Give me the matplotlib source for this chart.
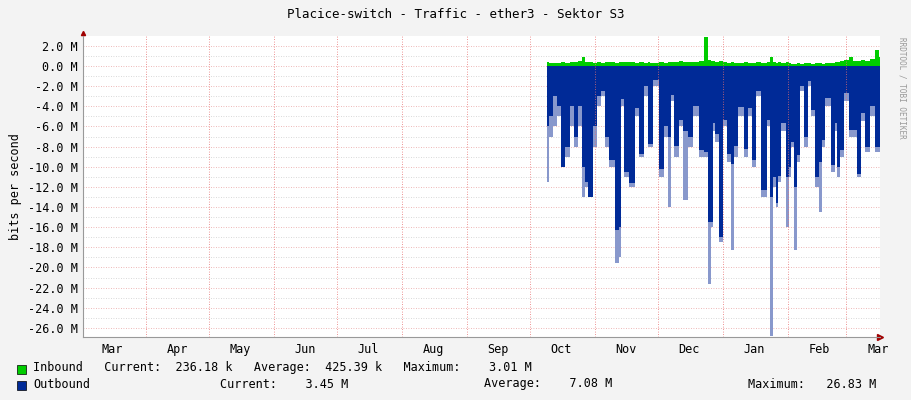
import matplotlib
matplotlib.use("Agg")
import matplotlib.pyplot as plt
import matplotlib.dates as mdates
from matplotlib.ticker import FuncFormatter, MultipleLocator
import datetime as dt

start = dt.date(2022, 3, 2)
end = dt.date(2023, 3, 17)

days = [221,223,225,227,229,231,233,235,237,239,240,242,244,246,248,250,252,255,256,257,259,262,264,266,269,270,271,273,276,278,280,281,283,285,287,290,292,295,297,299,300,301,302,304,306,308,310,311,314,316,318,320,322,325,327,328,330,331,332,334,336,337,338,340,341,343,345,346,348,350,352,353,355,358,359,360,362,364,366,368,370,372,374,376,379,380]
out_avg = [-6,-5,-3,-4,-10,-8,-4,-7,-4,-10,-11.5,-13,-6,-3,-2.5,-7,-9.3,-16.3,-16,-3.3,-10.5,-11.6,-4.2,-8.7,-2,-7.7,-7.7,-1.4,-10.2,-6,-7,-2.9,-7.9,-5.4,-6.5,-7,-4,-8.3,-8.5,-15.5,-15.5,-5.7,-6.7,-17,-5.4,-8.7,-9.7,-7.9,-4.1,-8.2,-4.2,-9.3,-2.5,-12.3,-5.4,-13,-11,-13.6,-10.9,-5.7,-11,-10,-7.5,-12,-8.8,-2,-7,-1.5,-4.4,-11,-9.5,-7.3,-3.2,-9.8,-5.7,-10,-8.3,-2.7,-6.4,-6.4,-10.7,-4.7,-8,-4,-8,-8]
out_max = [-11.5,-7,-6,-5,-10,-9,-6,-8,-6,-13,-12,-13,-8,-4,-3,-8,-10,-19.6,-19,-4,-11,-12,-5,-9,-3,-8,-8,-2,-11,-7,-14,-3.5,-9,-6,-13.3,-8,-5,-9,-9,-21.6,-16,-6.5,-7.5,-17.5,-6,-9.5,-18.3,-9,-5,-9,-5,-10,-3,-13,-6,-26.8,-12,-14,-11.5,-6.5,-16,-11,-8,-18.3,-9.5,-2.5,-8,-2,-5,-12,-14.5,-8,-4,-10.5,-6.5,-11,-9,-3.5,-7,-7,-11,-5.5,-8.5,-5,-8.5,-8.5]
inbound = [0.4,0.3,0.3,0.3,0.35,0.3,0.4,0.35,0.5,0.9,0.4,0.35,0.3,0.35,0.3,0.4,0.35,0.3,0.4,0.35,0.4,0.35,0.3,0.4,0.3,0.35,0.3,0.3,0.35,0.3,0.35,0.4,0.35,0.45,0.4,0.35,0.4,0.5,2.9,0.6,0.5,0.45,0.4,0.5,0.35,0.3,0.35,0.3,0.3,0.35,0.3,0.3,0.35,0.3,0.35,0.9,0.35,0.3,0.35,0.3,0.35,0.3,0.25,0.25,0.3,0.25,0.3,0.3,0.25,0.3,0.3,0.25,0.3,0.3,0.35,0.4,0.5,0.6,0.9,0.5,0.5,0.6,0.5,0.7,1.6,0.9]

months = ["Mar","Apr","May","Jun","Jul","Aug","Sep","Oct","Nov","Dec","Jan","Feb","Mar"]

x = [mdates.date2num(start + dt.timedelta(days=d)) for d in days]
M = 1e6

plt.rcParams['font.family'] = ['DejaVu Sans Mono']
fig = plt.figure(figsize=(9.11, 4.0), dpi=100, facecolor='#F3F3F3')
ax = fig.add_axes([83/911, 1-337/400, 797/911, 301/400], facecolor='white')

ax.fill_between(x, [v*M for v in out_max], 0, step='mid', color='#8898cc', lw=0)
ax.fill_between(x, [v*M for v in out_avg], 0, step='mid', color='#002A97', lw=0)
ax.fill_between(x, [v*M for v in inbound], 0, step='mid', color='#00CC00', lw=0)

ax.set_xlim(mdates.date2num(start), mdates.date2num(end))
ax.set_ylim(-26.9*M, 2.98*M)

# grid
for v in range(-26, 3):
    col = '#e8a0a0' if v % 2 == 0 else '#cccccc'
    ax.axhline(v*M, color=col, lw=0.6, ls=(0, (1, 2)), zorder=0.5)
bounds = []
d = dt.date(2022, 4, 1)
while d < end:
    bounds.append(mdates.date2num(d))
    d = dt.date(d.year + (d.month // 12), d.month % 12 + 1, 1)
for b in bounds:
    ax.axvline(b, color='#e87070', lw=0.6, ls=(0, (1, 2)), zorder=3)
mids = []
d = dt.date(2022, 3, 1)
for i in range(13):
    mids.append(mdates.date2num(d) + 15)
    d = dt.date(d.year + (d.month // 12), d.month % 12 + 1, 1)
ax.set_xticks(mids)
ax.set_xticklabels(months)
ax.yaxis.set_major_locator(MultipleLocator(2*M))
ax.yaxis.set_major_formatter(FuncFormatter(lambda v, p: "%.1f M" % (v/M)))
ax.tick_params(axis='both', length=0, labelsize=8.5, pad=4, colors='black')
for s in ['top', 'right']:
    ax.spines[s].set_visible(False)
ax.spines['left'].set_color('#999999')
ax.spines['bottom'].set_color('#999999')
ax.set_ylabel('bits per second', fontsize=8.5, labelpad=4)
ax.plot([1], [0], transform=ax.transAxes, marker='>', color='#a00000', ms=4, clip_on=False)
ax.plot([0], [1.01], transform=ax.transAxes, marker='^', color='#a00000', ms=3, clip_on=False)

fig.text(0.5, 1-15/400, 'Placice-switch - Traffic - ether3 - Sektor S3', ha='center', va='center', fontsize=9)
fig.text(902/911, 0.5+0.28, 'RRDTOOL / TOBI OETIKER', rotation=270, ha='center', va='center', fontsize=5.5, color='#999999')

fs = 8.5
fig.patches.append(plt.Rectangle((17/911, 1-374/400), 9/911, 9/400, transform=fig.transFigure, facecolor='#00CC00', edgecolor='black', lw=0.5))
fig.patches.append(plt.Rectangle((17/911, 1-390/400), 9/911, 9/400, transform=fig.transFigure, facecolor='#002A97', edgecolor='black', lw=0.5))
fig.text(33/911, 1-368/400, 'Inbound   Current:  236.18 k   Average:  425.39 k   Maximum:    3.01 M', va='center', fontsize=fs)
fig.text(33/911, 1-384/400, 'Outbound', va='center', fontsize=fs)
fig.text(220/911, 1-384/400, 'Current:    3.45 M', va='center', fontsize=fs)
fig.text(484/911, 1-384/400, 'Average:    7.08 M', va='center', fontsize=fs)
fig.text(748/911, 1-384/400, 'Maximum:   26.83 M', va='center', fontsize=fs)

fig.savefig('out.png', dpi=100, facecolor=fig.get_facecolor())
